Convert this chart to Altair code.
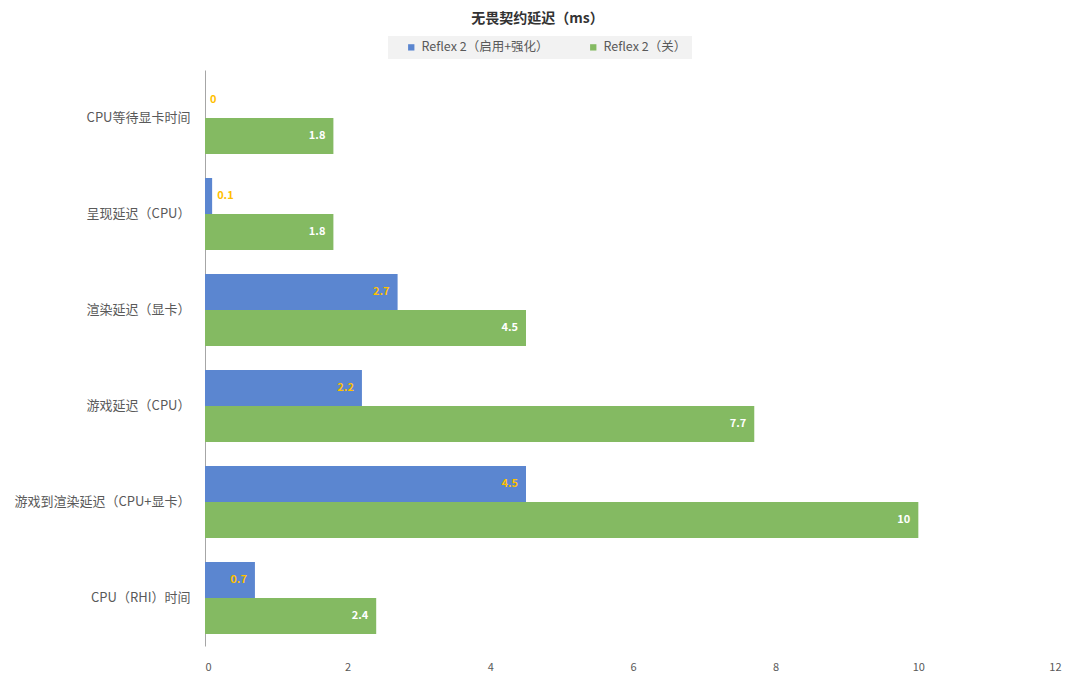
import altair as alt
import pandas as pd

categories = ["CPU等待显卡时间", "呈现延迟（CPU）", "渲染延迟（显卡）", "游戏延迟（CPU）",
              "游戏到渲染延迟（CPU+显卡）", "CPU（RHI）时间"]
series_names = ["Reflex 2（启用+强化）", "Reflex 2（关）"]
blue_values = [0, 0.1, 2.7, 2.2, 4.5, 0.7]
green_values = [1.8, 1.8, 4.5, 7.7, 10, 2.4]
x_ticks = [0, 2, 4, 6, 8, 10, 12]

rows = []
for c, b, g in zip(categories, blue_values, green_values):
    rows.append({"cat": c, "series": series_names[0], "value": b, "label": f"{b:g}"})
    rows.append({"cat": c, "series": series_names[1], "value": g, "label": f"{g:g}"})
df = pd.DataFrame(rows)

FONT = "Noto Sans CJK SC"
colors = ["#5b86d0", "#84ba62"]

y_enc = alt.Y("cat:N", sort=categories, title=None,
              scale=alt.Scale(paddingInner=0.25, paddingOuter=0.125),
              axis=alt.Axis(labelPadding=15, ticks=False, domainColor="#a6a6a6",
                            labelFontSize=13, labelColor="#595959", labelFont=FONT))
yoff = alt.YOffset("series:N", sort=series_names)
x_enc = alt.X("value:Q", title=None,
              scale=alt.Scale(domain=[0, 12], nice=False),
              axis=alt.Axis(values=x_ticks, format="d", grid=False, domain=False, ticks=False,
                            labelPadding=15, labelFontSize=11, labelColor="#595959",
                            labelFont=FONT))

base = alt.Chart(df)
bars = base.mark_bar().encode(
    x=x_enc, y=y_enc, yOffset=yoff,
    color=alt.Color("series:N", sort=series_names,
                    scale=alt.Scale(domain=series_names, range=colors),
                    legend=alt.Legend(title=None, orient="none", direction="horizontal",
                                      legendX=183, legendY=-34, symbolType="square",
                                      symbolSize=40, labelFontSize=12.5, labelColor="#595959",
                                      labelFont=FONT, fillColor="#f2f2f2", padding=5,
                                      columnPadding=26, symbolOffset=12, labelOffset=4)),
)

text_color = alt.Color("series:N", sort=series_names,
                       scale=alt.Scale(domain=series_names, range=["#ffc000", "#ffffff"]),
                       legend=None)

inside = base.transform_filter("datum.value >= 0.5").mark_text(
    align="right", dx=-8, fontWeight="bold", fontSize=11, font=FONT
).encode(x="value:Q", y=alt.Y("cat:N", sort=categories), yOffset=yoff,
         text="label:N", color=text_color)

outside = base.transform_filter("datum.value < 0.5").mark_text(
    align="left", dx=5, fontWeight="bold", fontSize=11, font=FONT
).encode(x="value:Q", y=alt.Y("cat:N", sort=categories), yOffset=yoff,
         text="label:N", color=alt.value("#ffc000"))

chart = alt.layer(bars, inside, outside).resolve_scale(color="independent").properties(
    width=856, height=576,
    autosize=alt.AutoSizeParams(type="none"),
    padding={"left": 197, "top": 62, "right": 3, "bottom": 27},
    background="white",
    title=alt.Title("无畏契约延迟（ms）", fontSize=14, fontWeight="bold", color="#333333",
                    font=FONT, anchor="middle", frame="bounds", offset=10),
).configure_view(stroke=None, strokeWidth=0)

chart.save("out.html", embed_options={"renderer": "svg", "actions": False})
